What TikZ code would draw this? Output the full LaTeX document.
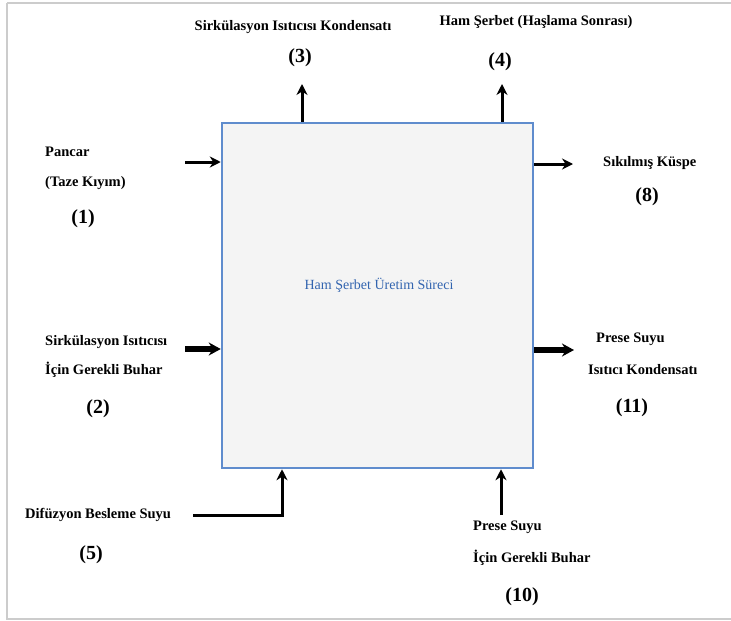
\documentclass[tikz,border=0pt]{standalone}
\usepackage{fontspec}
\setmainfont{Liberation Serif}
\usetikzlibrary{arrows.meta}
\definecolor{boxblue}{RGB}{95,140,205}
\definecolor{txtblue}{RGB}{50,100,175}
\begin{document}
\begin{tikzpicture}[x=1pt,y=-1pt,
  lbl/.style={inner sep=0pt,font=\fontsize{14.5}{16}\selectfont\bfseries},
  num/.style={inner sep=0pt,font=\fontsize{20}{22}\selectfont\bfseries},
  flow/.style={line width=3pt,-{Stealth[length=11pt,width=11pt]}},
  bigflow/.style={line width=5.5pt,-{Stealth[length=12pt,width=13pt]}}]
\useasboundingbox (0,0) rectangle (731,621);
\draw[gray!40,line width=1.5pt] (7,3) -- (740,3);
\draw[gray!40,line width=1.5pt] (7,3) -- (7,619) -- (740,619);
% main box
\node[draw=boxblue,line width=2.5pt,fill=gray!9,minimum width=311pt,minimum height=345pt] (proc) at (377.5,295.5) {};
\node[inner sep=0pt,text=txtblue,font=\fontsize{14}{16}\selectfont] (title) at (379,285) {Ham Şerbet Üretim Süreci};
% top outputs
\node[lbl] (s3) at (293,27) {Sirkülasyon Isıtıcısı Kondensatı};
\node[num] (n3) at (300,58) {(3)};
\node[lbl] (s4) at (536,22) {Ham Şerbet (Haşlama Sonrası)};
\node[num] (n4) at (500,62) {(4)};
\coordinate (h3) at (302,84);
\coordinate (h4) at (502,84);
\draw[flow] (h3 |- proc.north) -- (h3);
\draw[flow] (h4 |- proc.north) -- (h4);
% left inputs
\node[lbl,anchor=west] (s1a) at (45,152) {Pancar};
\node[lbl,anchor=west] (s1b) at (45,183) {(Taze Kıyım)};
\node[num] (n1) at (83,219) {(1)};
\node[lbl,anchor=west] (s2a) at (45,342) {Sirkülasyon Isıtıcısı};
\node[lbl,anchor=west] (s2b) at (45,370) {İçin Gerekli Buhar};
\node[num] (n2) at (98,409) {(2)};
\coordinate (t1) at (185,162);
\coordinate (t2) at (185,349);
\draw[flow] (t1) -- (t1 -| proc.west);
\draw[bigflow] (t2) -- (t2 -| proc.west);
% right outputs
\node[lbl,anchor=west] (s8) at (603,163) {Sıkılmış Küspe};
\node[num] (n8) at (647,197) {(8)};
\node[lbl,anchor=west] (s11a) at (596,339) {Prese Suyu};
\node[lbl,anchor=west] (s11b) at (588,370) {Isıtıcı Kondensatı};
\node[num] (n11) at (632,408) {(11)};
\coordinate (h8) at (573,164);
\coordinate (h11) at (574,350);
\draw[flow] (h8 -| proc.east) -- (h8);
\draw[bigflow] (h11 -| proc.east) -- (h11);
% bottom inputs
\node[lbl,anchor=west] (s5) at (25,515) {Difüzyon Besleme Suyu};
\node[num] (n5) at (91,555) {(5)};
\node[lbl,anchor=west] (s10a) at (473,527) {Prese Suyu};
\node[lbl,anchor=west] (s10b) at (473,558) {İçin Gerekli Buhar};
\node[num] (n10) at (522,597) {(10)};
\coordinate (t5) at (193,515);
\coordinate (k5) at (282,515);
\coordinate (t10) at (501,515);
\draw[flow] (t5) -- (k5) -- (k5 |- proc.south);
\draw[flow] (t10) -- (t10 |- proc.south);
\end{tikzpicture}
\end{document}
